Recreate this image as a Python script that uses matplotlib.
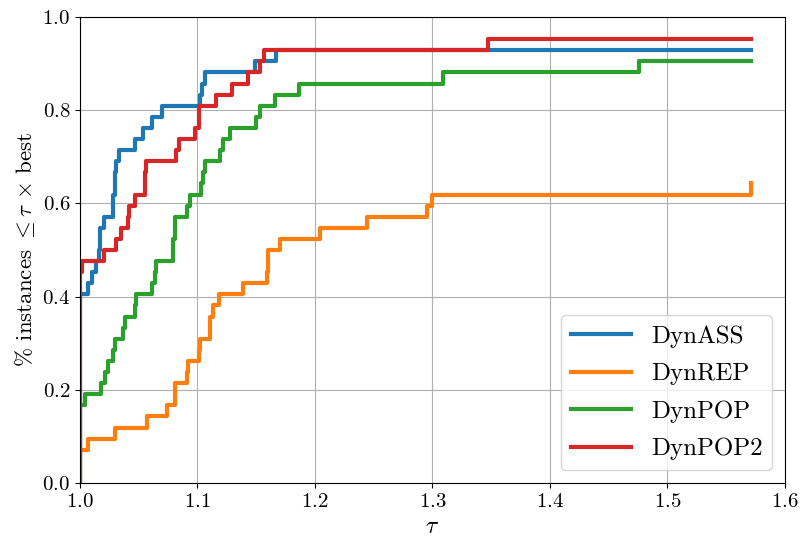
import numpy as np
import matplotlib
matplotlib.use("Agg")
import matplotlib.pyplot as plt

plt.rcParams["font.family"] = "cmr10"
plt.rcParams["mathtext.fontset"] = "cm"
plt.rcParams["axes.formatter.use_mathtext"] = True

n_instances = 42

# breakpoints of each performance profile: tau and number of instances solved
dynass_tau = [1.0, 1.0, 1.007, 1.010, 1.014, 1.016, 1.017, 1.020, 1.028, 1.030,
              1.031, 1.033, 1.047, 1.054, 1.061, 1.070, 1.102, 1.104, 1.106,
              1.149, 1.167, 1.571]
dynass_cnt = [0, 17, 18, 19, 20, 21, 23, 24, 26, 28,
              29, 30, 31, 32, 33, 34, 35, 36, 37,
              38, 39, 39]

dynrep_tau = [1.0, 1.0, 1.007, 1.030, 1.057, 1.074, 1.081, 1.091, 1.092, 1.101,
              1.102, 1.111, 1.113, 1.118, 1.139, 1.159, 1.160, 1.170, 1.204,
              1.244, 1.295, 1.300, 1.571]
dynrep_cnt = [0, 3, 4, 5, 6, 7, 9, 10, 11, 12,
              13, 15, 16, 17, 18, 19, 21, 22, 23,
              24, 25, 26, 27]

dynpop_tau = [1.0, 1.0, 1.004, 1.018, 1.021, 1.024, 1.028, 1.030, 1.037, 1.038,
              1.047, 1.048, 1.061, 1.064, 1.065, 1.079, 1.081, 1.091, 1.094,
              1.103, 1.105, 1.106, 1.119, 1.122, 1.128, 1.150, 1.153, 1.166,
              1.186, 1.309, 1.476, 1.571]
dynpop_cnt = [0, 7, 8, 9, 10, 11, 12, 13, 14, 15,
              16, 17, 18, 19, 20, 22, 24, 25, 26,
              27, 28, 29, 30, 31, 32, 33, 34, 35,
              36, 37, 38, 38]

dynpop2_tau = [1.0, 1.0, 1.0015, 1.020, 1.031, 1.035, 1.041, 1.042, 1.047, 1.055,
               1.056, 1.082, 1.084, 1.098, 1.101, 1.116, 1.129, 1.143, 1.153,
               1.157, 1.347, 1.571]
dynpop2_cnt = [0, 19, 20, 21, 22, 23, 24, 25, 26, 28,
               29, 30, 31, 32, 34, 35, 36, 37, 38,
               39, 40, 40]

series = [
    ("DynASS", dynass_tau, dynass_cnt),
    ("DynREP", dynrep_tau, dynrep_cnt),
    ("DynPOP", dynpop_tau, dynpop_cnt),
    ("DynPOP2", dynpop2_tau, dynpop2_cnt),
]

fig, ax = plt.subplots(figsize=(8.05, 5.43), dpi=100)
fig.subplots_adjust(left=0.0994, right=0.975, bottom=0.1105, top=0.9687)

for name, tau, cnt in series:
    ax.step(tau, np.array(cnt) / n_instances, where="post", lw=3.0, label=name)

ax.set_xlim(1.0, 1.6)
ax.set_ylim(0.0, 1.0)
ax.grid(True)
ax.tick_params(labelsize=15)
ax.set_xlabel(r"$\tau$", fontsize=17)
ax.set_ylabel(r"$\%$ instances $\leq \tau\,\times\,$best", fontsize=16.5)
ax.legend(loc="lower right", fontsize=18, handlelength=2.4, labelspacing=0.6)

plt.savefig("out.png")
